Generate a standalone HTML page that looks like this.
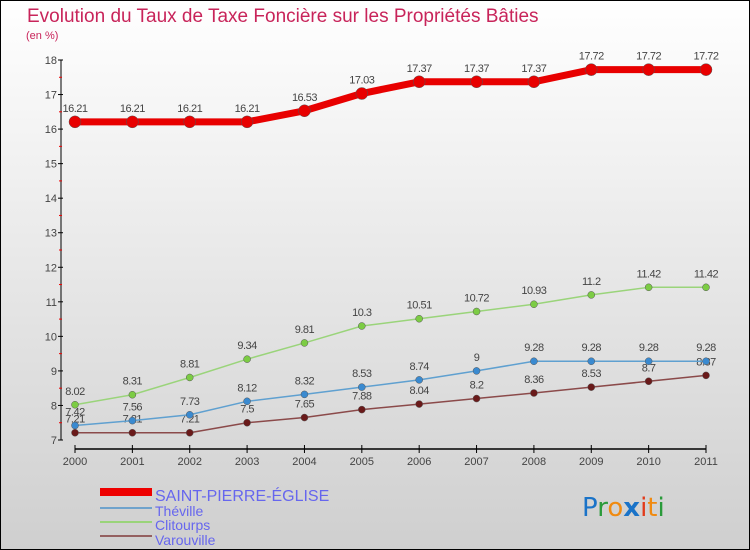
<!DOCTYPE html>
<html><head><meta charset="utf-8"><style>
html,body{margin:0;padding:0;width:750px;height:550px;overflow:hidden}
svg{display:block;font-family:"Liberation Sans",sans-serif}
</style></head><body>
<svg id="chart" width="750" height="550" viewBox="0 0 750 550">
<defs><linearGradient id="bg" x1="0" y1="0" x2="0" y2="1"><stop offset="0" stop-color="#ffffff"/><stop offset="1" stop-color="#cfcfcf"/></linearGradient></defs>
<rect x="0.5" y="0.5" width="749" height="549" fill="url(#bg)" stroke="#000"/>
<text x="27" y="22" font-size="19" fill="#c8245a">Evolution du Taux de Taxe Foncière sur les Propriétés Bâties</text>
<text x="26" y="39" font-size="11" fill="#c8245a">(en %)</text>
<g id="axes"></g><g id="series"></g>
<g>
<rect x="100" y="488" width="52" height="8" fill="#e00"/>
<text x="155" y="501" font-size="16" fill="#6666ee">SAINT-PIERRE-ÉGLISE</text>
<line x1="100" y1="508" x2="152" y2="508" stroke="#6fa3cc" stroke-width="2"/>
<text x="155" y="516" font-size="14" fill="#6666ee">Théville</text>
<line x1="100" y1="522" x2="152" y2="522" stroke="#9ad47a" stroke-width="2"/>
<text x="155" y="530" font-size="14" fill="#6666ee">Clitourps</text>
<line x1="100" y1="536" x2="152" y2="536" stroke="#946060" stroke-width="2"/>
<text x="155" y="545" font-size="14" fill="#6666ee">Varouville</text>
</g>
<g font-size="26" font-family="'DejaVu Sans',sans-serif">
<text x="582" y="516"><tspan fill="#1a73c8">P</tspan><tspan fill="#2a9a3a">r</tspan><tspan fill="#f08a10">o</tspan><tspan fill="#1a73c8" font-weight="bold">x</tspan><tspan fill="#e23a1a">i</tspan><tspan fill="#f08a10">t</tspan><tspan fill="#2a9a3a">i</tspan></text>
</g>
</svg>
<script>
const years=[2000,2001,2002,2003,2004,2005,2006,2007,2008,2009,2010,2011];
const yTicks=[7,8,9,10,11,12,13,14,15,16,17,18];
const stPierre=[16.21,16.21,16.21,16.21,16.53,17.03,17.37,17.37,17.37,17.72,17.72,17.72];
const theville=[7.42,7.56,7.73,8.12,8.32,8.53,8.74,9,9.28,9.28,9.28,9.28];
const clitourps=[8.02,8.31,8.81,9.34,9.81,10.3,10.51,10.72,10.93,11.2,11.42,11.42];
const varouville=[7.21,7.21,7.21,7.5,7.65,7.88,8.04,8.2,8.36,8.53,8.7,8.87];
const NS="http://www.w3.org/2000/svg";
const X=i=>75+i*(706-75)/(years.length-1);
const Y=v=>440-(v-7)*(380/11);
function mk(tag,attrs,parent){const e=document.createElementNS(NS,tag);for(const k in attrs)e.setAttribute(k,attrs[k]);parent.appendChild(e);return e;}
const axes=document.getElementById('axes');
const ya=mk('line',{x1:61,y1:Y(18),x2:61,y2:Y(7),stroke:'#000'},axes);


yTicks.forEach(t=>{
  mk('line',{x1:58,y1:Y(t),x2:63,y2:Y(t),stroke:'#000'},axes);
  if(t<18)mk('line',{x1:59,y1:Y(t+0.5),x2:62,y2:Y(t+0.5),stroke:'#e00'},axes);
  const tx=mk('text',{x:57,y:Y(t)+4,'font-size':11,fill:'#444','text-anchor':'end'},axes);
  tx.textContent=t;
  
  
});
const xa=mk('line',{x1:75,y1:449,x2:706,y2:449,stroke:'#000','stroke-width':1.5},axes);


years.forEach((y,i)=>{
  mk('line',{x1:X(i),y1:445,x2:X(i),y2:453,stroke:'#000'},axes);
  const tx=mk('text',{x:X(i),y:465,'font-size':11,fill:'#444','text-anchor':'middle'},axes);
  tx.textContent=y;
  
  
});
const sg=document.getElementById('series');
function draw(vals,color,width,r,dot,name){
  const g=mk('g',{},sg);
  
  
  mk('polyline',{points:vals.map((v,i)=>X(i)+','+Y(v)).join(' '),fill:'none',stroke:color,'stroke-width':width,'stroke-linejoin':'round'},g);
  vals.forEach((v,i)=>{
    const c=mk('circle',{cx:X(i),cy:Y(v),r:r,fill:dot,stroke:'#555','stroke-width':0.5},g);
    
    
    const t=mk('text',{x:X(i),y:Y(v)-10,'font-size':11,fill:'#444','text-anchor':'middle','letter-spacing':'-0.5'},g);
    t.textContent=v;
    
    
  });
}
draw(varouville,'#8b4a4a',1.5,3.5,'#6a1a1a','varouville-series');
draw(theville,'#5fa0d0',1.5,3.5,'#3a8ad0','theville-series');
draw(clitourps,'#9ad47a',1.5,3.5,'#7ccc44','clitourps-series');
draw(stPierre,'#e80000',7,6,'#e80000','saint-pierre-series');
</script>
</body></html>
